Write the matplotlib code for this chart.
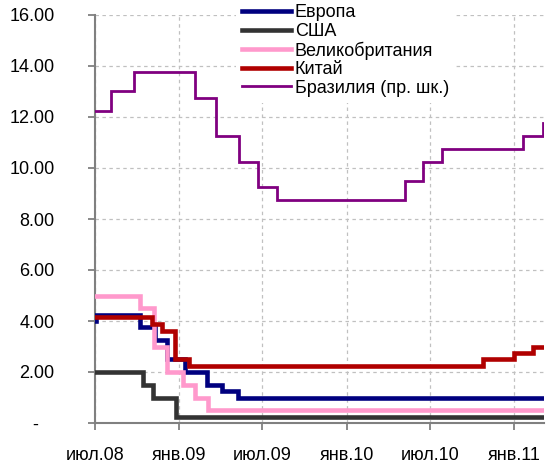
import matplotlib
matplotlib.use("Agg")
import matplotlib.pyplot as plt
import matplotlib.dates as mdates
import matplotlib.transforms as mtransforms
from matplotlib.ticker import FixedLocator, FuncFormatter
import pandas as pd

plt.rcParams["font.family"] = ["Liberation Sans", "DejaVu Sans"]
plt.rcParams["lines.scale_dashes"] = False

END = "2011-03-07"

# policy rates, step changes (date of change, new level)
euro_dates = ["2008-07-01", "2008-07-04", "2008-10-07", "2008-11-09", "2008-12-04",
              "2009-01-14", "2009-03-02", "2009-04-04", "2009-05-09"]
euro_vals = [4.00, 4.25, 3.75, 3.25, 2.50, 2.00, 1.50, 1.25, 1.00]

usa_dates = ["2008-07-01", "2008-10-14", "2008-11-04", "2008-12-24"]
usa_vals = [2.00, 1.50, 1.00, 0.25]

uk_dates = ["2008-07-01", "2008-10-08", "2008-11-06", "2008-12-04",
            "2009-01-08", "2009-02-05", "2009-03-05"]
uk_vals = [5.00, 4.50, 3.00, 2.00, 1.50, 1.00, 0.50]

china_dates = ["2008-07-01", "2008-11-02", "2008-11-24", "2008-12-23",
               "2009-01-22", "2010-10-26", "2011-01-01", "2011-02-10"]
china_vals = [4.14, 3.87, 3.60, 2.52, 2.25, 2.50, 2.75, 3.00]

brazil_dates = ["2008-07-01", "2008-08-05", "2008-09-23", "2009-02-04", "2009-03-21",
                "2009-05-12", "2009-06-21", "2009-08-01", "2010-05-08", "2010-06-17",
                "2010-07-27", "2011-01-21", "2011-03-04"]
brazil_vals = [12.25, 13.00, 13.75, 12.75, 11.25, 10.25, 9.25, 8.75,
               9.50, 10.25, 10.75, 11.25, 11.75]

tick_dates = ["2008-07-01", "2009-01-01", "2009-07-01", "2010-01-01", "2010-07-01", "2011-01-01"]
tick_labels = ["июл.08", "янв.09", "июл.09", "янв.10", "июл.10", "янв.11"]

series = [
    ("Европа", euro_dates, euro_vals, "#00007F", 3.3),
    ("США", usa_dates, usa_vals, "#333333", 3.3),
    ("Великобритания", uk_dates, uk_vals, "#FF99CC", 3.3),
    ("Китай", china_dates, china_vals, "#B00000", 3.3),
    ("Бразилия (пр. шк.)", brazil_dates, brazil_vals, "#800080", 2.0),
]

fig = plt.figure(figsize=(5.48, 4.69), dpi=100)
ax = fig.add_axes([95 / 548, 46 / 469, 449 / 548, 408 / 469])

for name, d, v, color, lw in series:
    x = pd.to_datetime(d + [END])
    y = v + [v[-1]]
    ax.step(x, y, where="post", color=color, linewidth=lw, label=name,
            solid_joinstyle="miter", zorder=3)

ax.set_xlim(pd.Timestamp("2008-07-01"), pd.Timestamp(END))
ax.set_ylim(0, 16)

ax.xaxis.set_major_locator(FixedLocator(mdates.date2num(pd.to_datetime(tick_dates))))
ax.set_xticklabels(tick_labels)
ax.set_yticks(range(0, 17, 2))
ax.yaxis.set_major_formatter(FuncFormatter(lambda v, p: "-" if v == 0 else f"{v:.2f}"))

ax.grid(True, color="#C0C0C0", linewidth=0.9, linestyle=(0, (2.5, 2.5)), zorder=1)
for s in ("top", "right"):
    ax.spines[s].set_visible(False)
for s in ("left", "bottom"):
    ax.spines[s].set_color("#808080")
    ax.spines[s].set_linewidth(1.5)
ax.tick_params(axis="y", direction="out", length=5, width=1.3, color="#808080",
               labelsize=13, pad=24)
ax.tick_params(axis="x", direction="out", length=5, width=1.3, color="#808080",
               labelsize=13, pad=12)

# zero label sits left of the numeric column
fig.canvas.draw()
zero_lbl = ax.get_yticklabels()[0]
zero_lbl.set_transform(zero_lbl.get_transform() +
                       mtransforms.ScaledTranslation(-17 / 100, 0, fig.dpi_scale_trans))

leg = ax.legend(loc="upper left", bbox_to_anchor=(236 / 548, 1.004),
                bbox_transform=fig.transFigure, fontsize=13, frameon=True,
                facecolor="white", edgecolor="none", framealpha=1, fancybox=False,
                borderpad=0.35, borderaxespad=0, labelspacing=0.08,
                handlelength=2.7, handletextpad=0.2)
leg.set_zorder(5)

fig.savefig("out.png", dpi=100)
